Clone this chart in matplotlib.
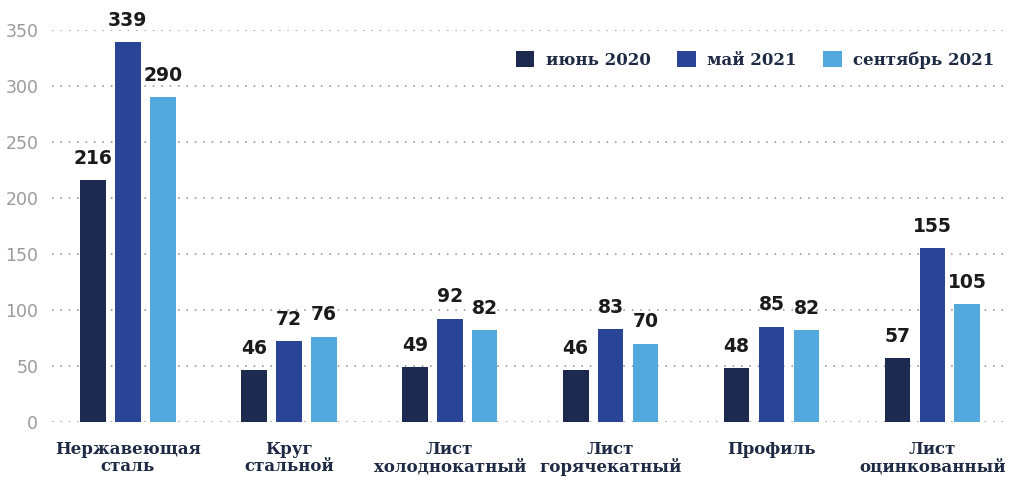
import matplotlib
matplotlib.use("Agg")
import matplotlib.pyplot as plt
import numpy as np

categories = ["Нержавеющая\nсталь", "Круг\nстальной", "Лист\nхолоднокатный",
              "Лист\nгорячекатный", "Профиль", "Лист\nоцинкованный"]
series_names = ["июнь 2020", "май 2021", "сентябрь 2021"]
jun2020 = [216, 46, 49, 46, 48, 57]
may2021 = [339, 72, 92, 83, 85, 155]
sep2021 = [290, 76, 82, 70, 82, 105]
yticks = [0, 50, 100, 150, 200, 250, 300, 350]

colors = ["#1c2a4f", "#2b4596", "#53a8de"]
text_color = "#1f2a44"

fig = plt.figure(figsize=(10.24, 4.93), dpi=100)
ax = fig.add_axes([0.051, 0.144, 0.935, 0.795])

x = np.arange(len(categories))
width = 0.16
step = 0.217
for i, (vals, name, c) in enumerate(zip([jun2020, may2021, sep2021], series_names, colors)):
    pos = x + (i - 1) * step
    ax.bar(pos, vals, width=width, color=c, label=name, zorder=3)
    for p, v in zip(pos, vals):
        ax.annotate(str(v), (p, v), xytext=(0, 9), textcoords="offset points",
                    ha="center", va="bottom", fontsize=13.5, fontweight="semibold",
                    color="#1a1a1a", annotation_clip=False, family="DejaVu Sans")

ax.set_ylim(0, 350)
ax.set_xlim(-0.47, 5.48)
ax.set_yticks(yticks)
ax.yaxis.grid(True, linestyle=(0, (1, 4.5)), color="#8a8a8a", linewidth=1.1, zorder=0)
ax.set_axisbelow(True)
for s in ax.spines.values():
    s.set_visible(False)
ax.tick_params(axis="y", length=0, pad=10, labelsize=12.5, labelcolor="#9a9a9a")
ax.tick_params(axis="x", length=0, pad=14)
ax.set_xticks(x)
ax.set_xticklabels(categories, fontsize=12, color=text_color, family="DejaVu Serif",
                   fontweight="bold", linespacing=1.0, va="top")

leg = ax.legend(loc="upper right", bbox_to_anchor=(1.0, 0.985), ncol=3, frameon=False,
                fontsize=12, handlelength=1.1, handleheight=1.1, columnspacing=1.6,
                handletextpad=0.7)
for t in leg.get_texts():
    t.set_color(text_color)
    t.set_family("DejaVu Serif")
    t.set_fontweight("bold")

fig.savefig("out.png", dpi=100)
